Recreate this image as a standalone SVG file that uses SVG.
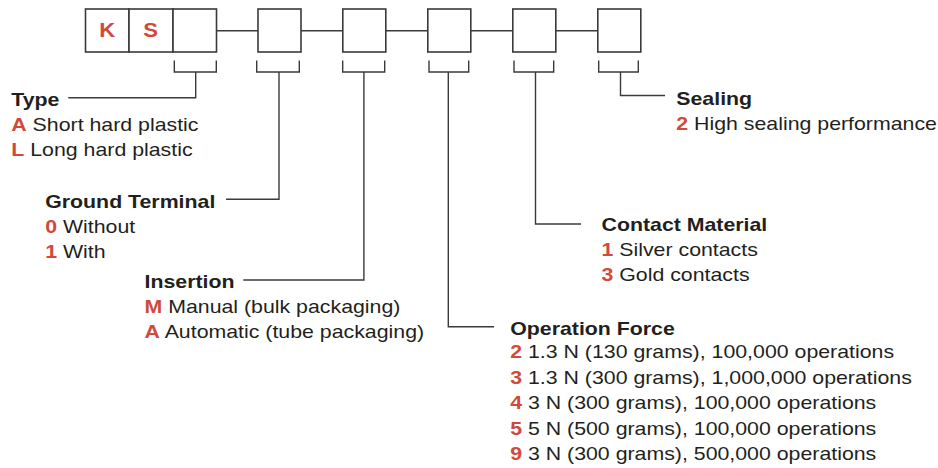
<svg xmlns="http://www.w3.org/2000/svg" width="938" height="468" viewBox="0 0 938 468">
<style>
  .box { fill: #fff; stroke: #3a3a3a; stroke-width: 1.6; }
  .ln { fill: none; stroke: #3a3a3a; stroke-width: 1.4; }
  text { font-family: "Liberation Sans", Arial, sans-serif; font-size: 18px; fill: #231f20; }
  .h { font-weight: bold; }
  .r { font-weight: bold; fill: #d0493a; }
  .code { font-size: 21px; font-weight: bold; fill: #d0493a; text-anchor: middle; }
</style>
<rect width="938" height="468" fill="#fff"/>

<g id="connectors">
  <path class="ln" d="M216.5 30.7H258 M301 30.7H342.8 M385.8 30.7H427.8 M470.8 30.7H512.8 M555.8 30.7H597.8"/>
  <path class="ln" d="M174.3 60.5V72H216.3V60.5 M195.7 72V97.8H68.3"/>
  <path class="ln" d="M256.7 60.5V72H299.3V60.5 M279 72V199.3H226"/>
  <path class="ln" d="M342.7 60.5V72H384.7V60.5 M363.9 72V280H243.3"/>
  <path class="ln" d="M429 60.5V72H468.7V60.5 M448.3 72V326.7H494"/>
  <path class="ln" d="M514 60.5V72H553.7V60.5 M535.5 72V224H581"/>
  <path class="ln" d="M598.7 60.5V72H638.3V60.5 M620.5 72V95.5H665"/>
</g>

<g id="code-boxes">
  <rect class="box" x="85.5" y="9" width="43.5" height="43"/>
  <rect class="box" x="129" y="9" width="44" height="43"/>
  <rect class="box" x="173" y="9" width="43.5" height="43"/>
  <text class="code" transform="translate(107.3,37) scale(1.05,1)">K</text>
  <text class="code" transform="translate(150.7,37) scale(1.05,1)">S</text>
  <rect class="box" x="258" y="9" width="43" height="43"/>
  <rect class="box" x="342.8" y="9" width="43" height="43"/>
  <rect class="box" x="427.8" y="9" width="43" height="43"/>
  <rect class="box" x="512.8" y="9" width="43" height="43"/>
  <rect class="box" x="597.8" y="9" width="43" height="43"/>
</g>

<g id="type" transform="translate(11.3,0) scale(1.185,1)">
  <text class="h" x="0" y="105.7">Type</text>
  <text x="0" y="130.7"><tspan class="r">A</tspan> Short hard plastic</text>
  <text x="0" y="156.3"><tspan class="r">L</tspan> Long hard plastic</text>
</g>

<g id="ground-terminal" transform="translate(45.2,0) scale(1.185,1)">
  <text class="h" x="0" y="207.7">Ground Terminal</text>
  <text x="0" y="232.7"><tspan class="r">0</tspan> Without</text>
  <text x="0" y="258.2"><tspan class="r">1</tspan> With</text>
</g>

<g id="insertion" transform="translate(144.5,0) scale(1.185,1)">
  <text class="h" x="0" y="288.3">Insertion</text>
  <text x="0" y="313.3"><tspan class="r">M</tspan> Manual (bulk packaging)</text>
  <text x="0" y="338.3"><tspan class="r">A</tspan> Automatic (tube packaging)</text>
</g>

<g id="operation-force" transform="translate(510.2,0) scale(1.185,1)">
  <text class="h" x="0" y="335">Operation Force</text>
  <text x="0" y="358.5"><tspan class="r">2</tspan> 1.3 N (130 grams), 100,000 operations</text>
  <text x="0" y="384"><tspan class="r">3</tspan> 1.3 N (300 grams), 1,000,000 operations</text>
  <text x="0" y="409.5"><tspan class="r">4</tspan> 3 N (300 grams), 100,000 operations</text>
  <text x="0" y="435"><tspan class="r">5</tspan> 5 N (500 grams), 100,000 operations</text>
  <text x="0" y="460.5"><tspan class="r">9</tspan> 3 N (300 grams), 500,000 operations</text>
</g>

<g id="contact-material" transform="translate(601.5,0) scale(1.185,1)">
  <text class="h" x="0" y="230.7">Contact Material</text>
  <text x="0" y="256.2"><tspan class="r">1</tspan> Silver contacts</text>
  <text x="0" y="281.5"><tspan class="r">3</tspan> Gold contacts</text>
</g>

<g id="sealing" transform="translate(676.3,0) scale(1.185,1)">
  <text class="h" x="0" y="105.3">Sealing</text>
  <text x="0" y="130.3"><tspan class="r">2</tspan> High sealing performance</text>
</g>
</svg>
